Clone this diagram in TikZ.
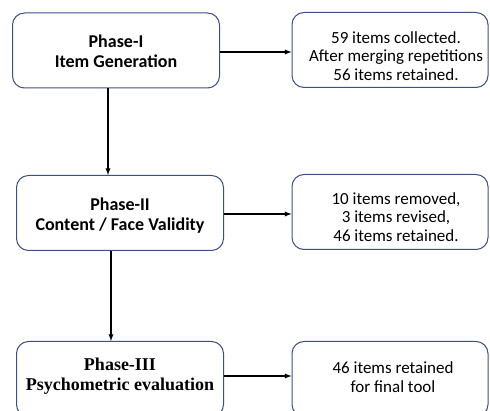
\documentclass[tikz,border=0pt]{standalone}
\usepackage{fontspec}
\setmainfont{Carlito}
\newfontfamily\timesbf{Liberation Serif}
\definecolor{boxblue}{RGB}{60,80,130}
\begin{document}
\begin{tikzpicture}[x=1pt, y=-1pt,
  phase/.style={shape=rectangle, rounded corners=12pt, draw=boxblue, line width=1pt, minimum width=207pt, minimum height=75pt},
  result/.style={shape=rectangle, rounded corners=12pt, draw=boxblue, line width=1pt, minimum width=196pt, minimum height=75pt},
  phasetext/.style={align=center, font=\bfseries\fontsize{18}{20}\selectfont},
  resulttext/.style={align=center, font=\fontsize{17}{18.5}\selectfont},
  link/.style={-latex, line width=1.3pt, draw=black}]
\useasboundingbox (0,0) rectangle (490,411);
\node[phase] (P1) at (116,50.5) {};
\node[phase] (P2) at (120,213) {};
\node[phase] (P3) at (120,379) {};
\node[result] (R1) at (390,50) {};
\node[result] (R2) at (390,212) {};
\node[result] (R3) at (390,379) {};
\node[phasetext] (T1) at (116,51.5) {Phase-I\\Item Generation};
\node[phasetext] (T2) at (120,216) {Phase-II\\Content / Face Validity};
\node[phasetext, font=\timesbf\bfseries\fontsize{18}{20}\selectfont] (T3) at (120,376) {Phase-III\\Psychometric evaluation};
\node[resulttext] (S1) at (396,56) {59 items collected.\\After merging repetitions\\56 items retained.};
\node[resulttext] (S2) at (396,217) {10 items removed,\\3 items revised,\\46 items retained.};
\node[resulttext] (S3) at (393,377) {46 items retained\\for final tool};
\coordinate (A1) at (0,52);
\coordinate (A2) at (0,214);
\coordinate (A3) at (0,376);
\draw[link] (P1.east |- A1) -- (R1.west |- A1);
\draw[link] (P2.east |- A2) -- (R2.west |- A2);
\draw[link] (P3.east |- A3) -- (R3.west |- A3);
\draw[link] (P1.south -| 108,0) -- (P2.north -| 108,0);
\draw[link] (P2.south -| 111,0) -- (P3.north -| 111,0);
\end{tikzpicture}
\end{document}
